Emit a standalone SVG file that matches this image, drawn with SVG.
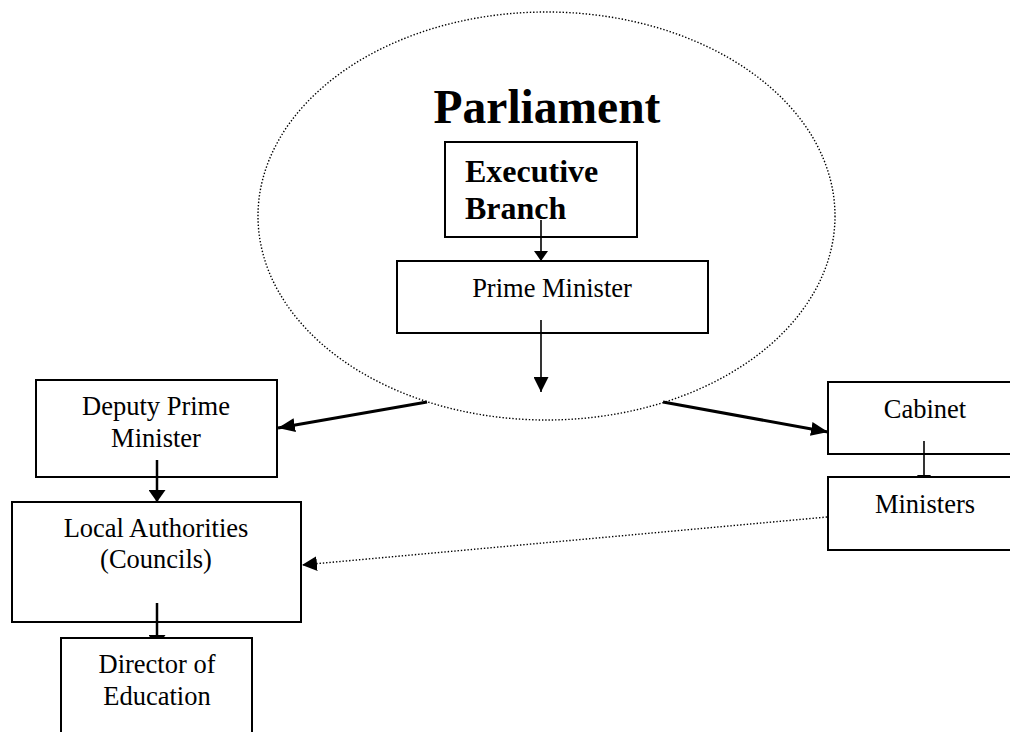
<svg xmlns="http://www.w3.org/2000/svg" width="1010" height="732" viewBox="0 0 1010 732">
<style>
.box{fill:none;stroke:#000;stroke-width:2}
.boxw{fill:#fff;stroke:#000;stroke-width:2}
.t{font-family:"Liberation Serif","Times New Roman",serif;font-size:26.5px;fill:#000;text-anchor:middle}
.b{font-family:"Liberation Serif","Times New Roman",serif;font-weight:bold;fill:#000}
.dot{fill:none;stroke:#000;stroke-width:1.4;stroke-dasharray:1.4 1.9}
.thin{stroke:#000;stroke-width:1.6;fill:none}
.thick{stroke:#000;stroke-width:3;fill:none}
.mid{stroke:#000;stroke-width:2.5;fill:none}
</style>
<defs>
<marker id="hs" markerUnits="userSpaceOnUse" markerWidth="10" markerHeight="14" refX="10" refY="7" orient="auto"><path d="M0,0 L10,7 L0,14 z" fill="#000"/></marker>
<marker id="hm" markerUnits="userSpaceOnUse" markerWidth="15" markerHeight="15" refX="15" refY="7.5" orient="auto"><path d="M0,0 L15,7.5 L0,15 z" fill="#000"/></marker>
<marker id="hl" markerUnits="userSpaceOnUse" markerWidth="17" markerHeight="14" refX="17" refY="7" orient="auto"><path d="M0,0 L17,7 L0,14 z" fill="#000"/></marker>
<marker id="hd" markerUnits="userSpaceOnUse" markerWidth="12" markerHeight="17" refX="12" refY="8.5" orient="auto"><path d="M0,0 L12,8.5 L0,17 z" fill="#000"/></marker>
</defs>

<g id="parliament">
<ellipse cx="546.5" cy="216" rx="288.5" ry="204" class="dot"/>
<text x="547" y="123" class="b" font-size="47.5" text-anchor="middle">Parliament</text>
</g>

<g id="executive">
<rect x="445" y="142" width="192" height="95" class="box"/>
<text x="465" y="182" class="b" font-size="32">Executive</text>
<text x="465" y="219" class="b" font-size="32">Branch</text>
</g>
<g id="prime-minister">
<rect x="397" y="261" width="311" height="72" class="box"/>
<text x="552" y="297" class="t">Prime Minister</text>
</g>
<g id="deputy">
<rect x="36" y="380" width="241" height="97" class="box"/>
<text x="156" y="415" class="t">Deputy Prime</text>
<text x="156" y="447" class="t">Minister</text>
</g>
<g id="local">
<rect x="12" y="502" width="289" height="120" class="box"/>
<text x="156" y="537" class="t">Local Authorities</text>
<text x="156" y="568" class="t">(Councils)</text>
</g>
<g id="cabinet">
<rect x="828" y="382" width="190" height="72" class="box"/>
<text x="925" y="418" class="t">Cabinet</text>
</g>

<g id="connectors">
<line x1="541" y1="220" x2="541" y2="261" class="thin" marker-end="url(#hs)"/>
<line x1="541" y1="320" x2="541" y2="392" class="thin" marker-end="url(#hm)"/>
<line x1="427" y1="402" x2="278" y2="428" class="thick" marker-end="url(#hl)"/>
<line x1="663" y1="402" x2="828" y2="432" class="thick" marker-end="url(#hl)"/>
<line x1="157" y1="460" x2="157" y2="502" class="mid" marker-end="url(#hd)"/>
<line x1="157" y1="603" x2="157" y2="647" class="mid" marker-end="url(#hd)"/>
<line x1="924" y1="441" x2="924" y2="485" class="thin" marker-end="url(#hs)"/>
<line x1="827" y1="517" x2="302" y2="565" class="dot" marker-end="url(#hm)"/>
</g>

<g id="director">
<rect x="61" y="638" width="191" height="110" class="boxw"/>
<text x="157" y="673" class="t">Director of</text>
<text x="157" y="705" class="t">Education</text>
</g>
<g id="ministers">
<rect x="828" y="477" width="190" height="73" class="boxw"/>
<text x="925" y="513" class="t">Ministers</text>
</g>
</svg>
